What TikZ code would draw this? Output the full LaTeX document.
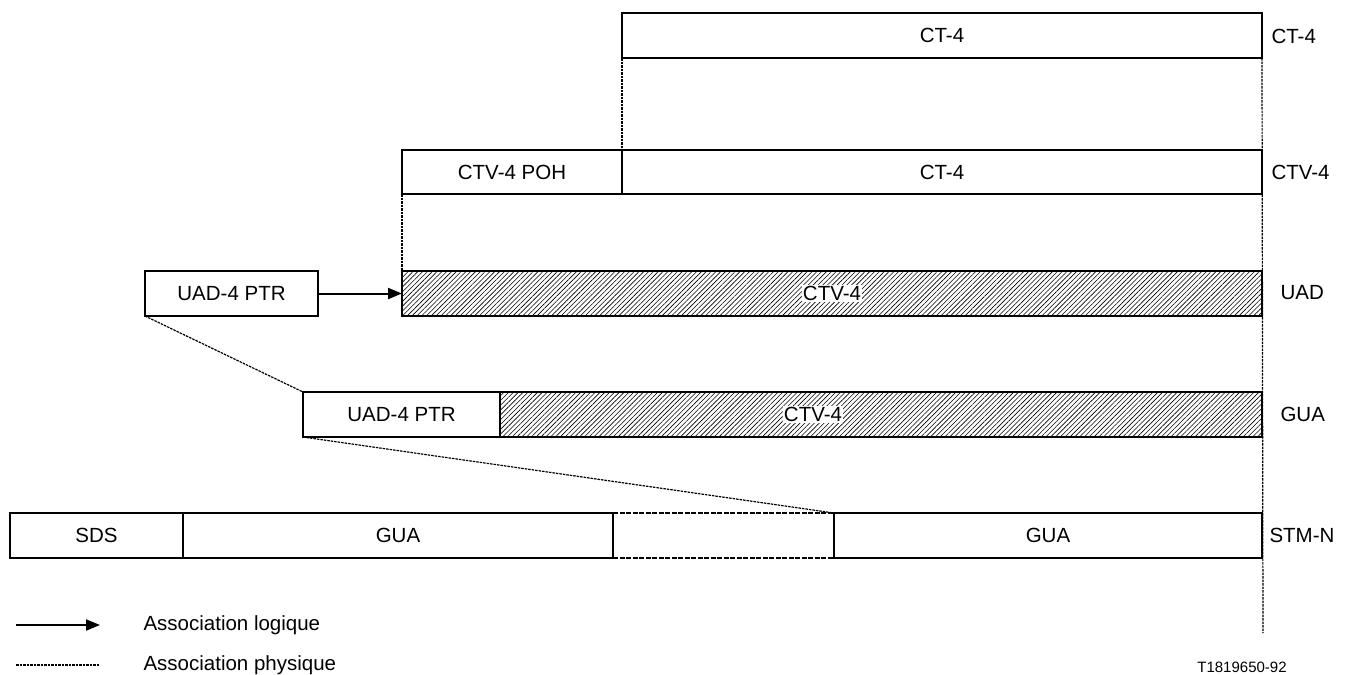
\documentclass[tikz,border=0pt]{standalone}
\usepackage{fontspec}
\setmainfont{Liberation Sans}
\usetikzlibrary{arrows.meta,calc,positioning,patterns.meta}

\begin{document}
\begin{tikzpicture}[x=1pt,y=-1pt,>={Triangle[length=14pt,width=11pt]},
 every node/.style={font=\fontsize{20.5}{24}\selectfont},
 cell/.style={draw,line width=1.1pt,anchor=north west,inner sep=0pt,outer sep=0pt,minimum height=45pt},
 hatched/.style={cell,pattern={Lines[angle=45,distance=3.4pt,line width=.6pt]}},
 phys/.style={line width=1.2pt,dash pattern=on 2.5pt off 1pt},
 gapline/.style={line width=1.6pt,dash pattern=on 5pt off 1.5pt},
 logic/.style={->,line width=2pt},
 tag/.style={fill=white,inner sep=1pt},
 side/.style={anchor=west}]
 \useasboundingbox(0,0)rectangle(1345,675);
 % rows
 \node[cell,minimum width=640pt](ct)at(622,13){CT-4};
 \node[cell,minimum width=220pt,minimum height=44pt](poh)at(402,150){CTV-4 POH};
 \node[cell,minimum width=640pt,minimum height=44pt](ctvct)at(622,150){CT-4};
 \node[hatched,minimum width=860pt](uad)at(402,271){};
 \node[tag](uadtxt)at(uad.center){CTV-4};
 \node[cell,minimum width=173pt](uadptr)at(145,271){UAD-4 PTR};
 \node[cell,minimum width=197pt](guaptr)at(303,392){UAD-4 PTR};
 \node[hatched,minimum width=762pt](guactv)at(500,392){};
 \node[tag](guatxt)at($(guactv.west)+(313,0)$){CTV-4};
 \node[cell,minimum width=173pt](sds)at(10,513){SDS};
 \node[cell,minimum width=430pt](gua1)at(sds.north east){GUA};
 \node[cell,draw=none,minimum width=221pt](gap)at(gua1.north east){};
 \node[cell,minimum width=428pt](gua2)at(gap.north east){GUA};
 \draw[gapline](gap.north west)--(gap.north east);
 \draw[gapline](gap.south west)--(gap.south east);
 % side labels
 \node[side](lct)at(1268,36){CT-4};
 \node[side](lctv)at(1268,172){CTV-4};
 \node[side](luad)at(1277,293){UAD};
 \node[side](lgua)at(1277,414){GUA};
 \node[side](lstm)at(1266,535){STM-N};
 % associations
 \coordinate(bot)at(1263,633);
 \draw[phys](ct.south west)--(ctvct.north west);
 \draw[phys](ct.south east)--(bot);
 \draw[phys](poh.south west)--(uad.north west);
 \draw[phys](uadptr.south west)--(guaptr.north west);
 \draw[phys](guaptr.south west)--(gua2.north west);
 \draw[logic](uadptr)--(uad);
 % legend
 \coordinate(la)at(16,625); \coordinate(lb)at(100,625);
 \coordinate(pa)at(16,665); \coordinate(pb)at(100,665);
 \draw[logic](la)--(lb);
 \draw[phys](pa)--(pb);
 \node[side](ll)at(140,625){Association logique};
 \node[side](lp)at(140,665){Association physique};
 \node[font=\fontsize{15}{18}\selectfont](ref)at(1242,667){T1819650-92};
\end{tikzpicture}
\end{document}
